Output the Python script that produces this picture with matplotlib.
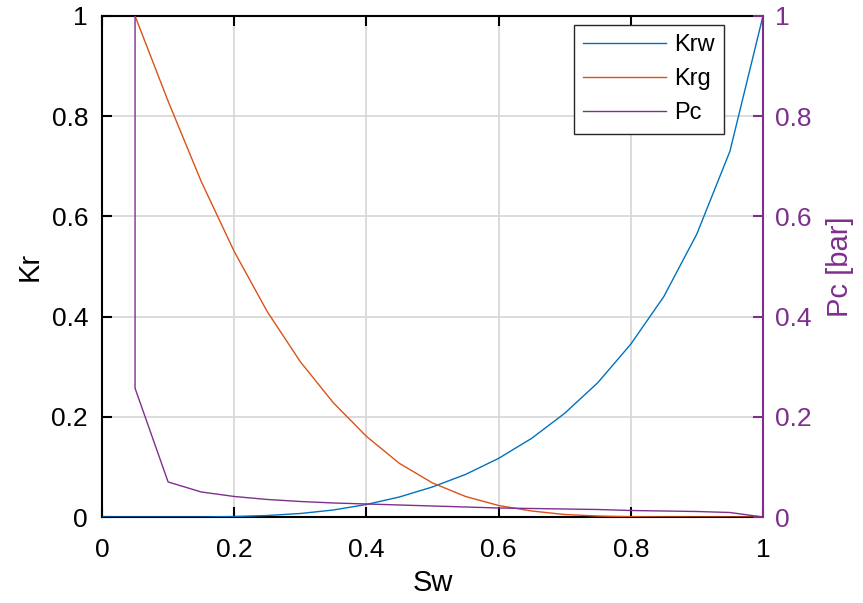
import matplotlib.pyplot as plt

plt.rcParams["font.family"] = ["Liberation Sans", "DejaVu Sans"]

# saturation grid and curves
sw = [0.00, 0.05, 0.10, 0.15, 0.20, 0.25, 0.30, 0.35, 0.40, 0.45, 0.50,
      0.55, 0.60, 0.65, 0.70, 0.75, 0.80, 0.85, 0.90, 0.95, 1.00]
krw = [0.0, 0.0, 0.0, 0.0, 0.001, 0.003, 0.007, 0.014, 0.025, 0.040, 0.060,
       0.085, 0.117, 0.157, 0.207, 0.268, 0.345, 0.440, 0.565, 0.730, 1.0]

sw_g = sw[1:]
krg = [1.0, 0.83, 0.67, 0.53, 0.41, 0.31, 0.228, 0.161, 0.107, 0.068,
       0.041, 0.023, 0.012, 0.005, 0.002, 0.0006, 0.0001, 0.0, 0.0, 0.0]

sw_pc = [0.05] + sw[1:]
pc = [1.0, 0.257, 0.070, 0.050, 0.041, 0.035, 0.031, 0.028, 0.026, 0.024,
      0.022, 0.020, 0.018, 0.017, 0.016, 0.015, 0.013, 0.012, 0.011, 0.009,
      0.0]

blue = "#0072BD"
orange = "#D95319"
purple = "#7E2F8E"
ticks = [0, 0.2, 0.4, 0.6, 0.8, 1]
tick_labels = ["0", "0.2", "0.4", "0.6", "0.8", "1"]

fig = plt.figure(figsize=(8.63, 6.03), dpi=100)
ax = fig.add_axes([0.1182, 0.1426, 0.7659, 0.8309])
ax2 = ax.twinx()

l1, = ax.plot(sw, krw, color=blue, lw=1.0, label="Krw", zorder=3)
l2, = ax.plot(sw_g, krg, color=orange, lw=1.0, label="Krg", zorder=3)
l3, = ax2.plot(sw_pc, pc, color=purple, lw=1.0, label="Pc", zorder=3)

for a in (ax, ax2):
    a.set_xlim(0, 1)
    a.set_ylim(0, 1)
    a.set_yticks(ticks)
    a.set_yticklabels(tick_labels)
    for s in a.spines.values():
        s.set_linewidth(1.5)
        s.set_zorder(2.5)

# only the right spine belongs to the Pc axis, so the Kr lines stay on top
for side in ("left", "top", "bottom"):
    ax2.spines[side].set_visible(False)

ax.set_xticks(ticks)
ax.set_xticklabels(tick_labels)
ax.grid(True, color="#d6d6d6", lw=1.2)
ax.set_axisbelow(True)
ax.tick_params(axis="both", direction="in", length=7, width=1.5,
               labelsize=19, top=True)
ax.tick_params(axis="x", pad=15)
ax.tick_params(axis="y", right=False, pad=10)
ax2.tick_params(axis="y", direction="in", length=7, width=1.5,
                labelsize=19, colors=purple, pad=9)
ax2.spines["right"].set_color(purple)
ax.spines["right"].set_visible(False)

ax.set_xlabel("Sw", fontsize=21, labelpad=5)
ax.set_ylabel("Kr", fontsize=21, labelpad=6)
ax2.set_ylabel("Pc [bar]", fontsize=21, color=purple, labelpad=10)

leg = ax2.legend(handles=[l1, l2, l3], loc="upper right",
                 bbox_to_anchor=(724 / 863, 1 - 25 / 603),
                 bbox_transform=fig.transFigure, borderaxespad=0,
                 fontsize=17, fancybox=False, framealpha=1,
                 edgecolor="#262626", handlelength=3.5, handletextpad=0.35,
                 labelspacing=0.5)
leg.get_frame().set_linewidth(1.0)

fig.savefig("out.png", dpi=100)
